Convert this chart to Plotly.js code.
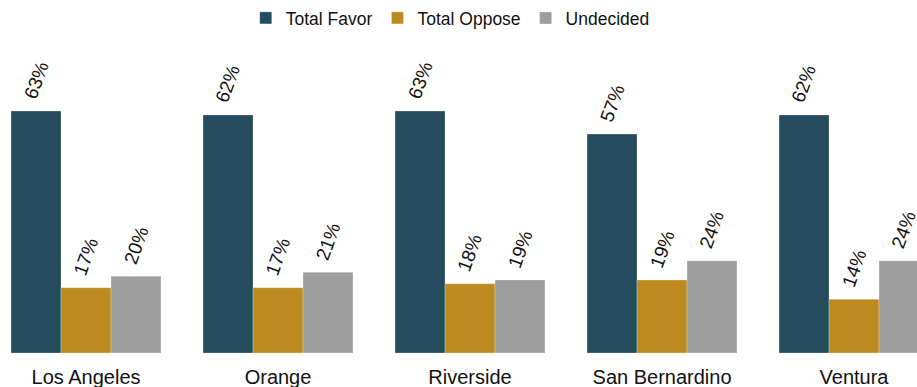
<!DOCTYPE html>
<html>
<head>
<meta charset="utf-8">
<script src="https://cdn.plot.ly/plotly-3.0.1.min.js"></script>
<style>html,body{margin:0;padding:0;background:#fff;}#chart{width:917px;height:387px;}</style>
</head>
<body>
<div id="chart"></div>
<script>
const counties = ["Los Angeles", "Orange", "Riverside", "San Bernardino", "Ventura"];
const totalFavor = [63, 62, 63, 57, 62];
const totalOppose = [17, 17, 18, 19, 14];
const undecided = [20, 21, 19, 24, 24];
const seriesNames = ["Total Favor", "Total Oppose", "Undecided"];
const seriesColors = ["#244C5E", "#BD8A1F", "#9E9E9E"];

const FONT = "Liberation Sans, Arial, sans-serif";
const barPx = 50; // width of one bar in pixels (group = 150px of 192px slot)

const seriesValues = [totalFavor, totalOppose, undecided];
const traces = seriesValues.map((vals, i) => ({
  type: "bar",
  name: seriesNames[i],
  x: counties,
  y: vals,
  marker: {color: seriesColors[i], line: {color: "rgba(255,255,255,0.5)", width: 0.5}},
  hoverinfo: "none"
}));

const annotations = [];
seriesValues.forEach((vals, i) => {
  vals.forEach((v, j) => {
    annotations.push({
      x: counties[j], y: v, xref: "x", yref: "y",
      xshift: (i - 1) * barPx, yshift: 7,
      text: v + "%", textangle: -70, showarrow: false,
      xanchor: "center", yanchor: "bottom",
      font: {family: FONT, size: 19, color: "#111"}
    });
  });
});

const layout = {
  width: 917, height: 387,
  margin: {l: 0, r: 0, t: 40, b: 34},
  paper_bgcolor: "#fff", plot_bgcolor: "#fff",
  font: {family: FONT, color: "#111"},
  barmode: "group", bargap: 0.219, bargroupgap: 0,
  showlegend: true,
  legend: {orientation: "h", x: 0.491, xanchor: "center", yref: "container", y: 1, yanchor: "top",
           font: {size: 17.5, color: "#111"}, itemclick: false, itemdoubleclick: false},
  xaxis: {type: "category", range: [-0.448, 4.328], showgrid: false, zeroline: false, showline: false,
          ticks: "", ticklabelstandoff: 10, tickfont: {size: 20, color: "#111"}, fixedrange: true},
  yaxis: {range: [0, 81.5], visible: false, showgrid: false, zeroline: false, fixedrange: true},
  annotations: annotations
};

Plotly.newPlot("chart", traces, layout, {displayModeBar: false, staticPlot: true});
</script>
</body>
</html>
